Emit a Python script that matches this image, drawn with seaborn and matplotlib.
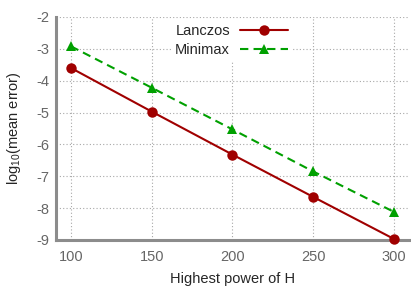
import numpy as np
import pandas as pd
import matplotlib
matplotlib.use("Agg")
import matplotlib.pyplot as plt
import seaborn as sns

# values
powers = [100, 150, 200, 250, 300]
lanczos = [-3.60, -4.97, -6.32, -7.65, -8.97]
minimax = [-2.92, -4.22, -5.53, -6.85, -8.12]

df = pd.DataFrame({
    "power": powers * 2,
    "err": lanczos + minimax,
    "method": ["Lanczos"] * 5 + ["Minimax"] * 5,
})

sns.set_style("white")
plt.rcParams['font.family'] = ['Liberation Sans', 'DejaVu Sans']
plt.rcParams['mathtext.fontset'] = 'custom'
plt.rcParams['mathtext.rm'] = 'Liberation Sans'
plt.rcParams['mathtext.it'] = 'Liberation Sans'

fig = plt.figure(figsize=(4.11, 2.88), dpi=100)
ax = fig.add_axes([0.136, 0.167, 0.859, 0.774])

sns.lineplot(data=df, x="power", y="err", hue="method", style="method",
             palette={"Lanczos": "#a00000", "Minimax": "#00a000"},
             markers={"Lanczos": "o", "Minimax": "^"},
             dashes={"Lanczos": "", "Minimax": (4, 2.5)},
             markersize=7.5, markeredgewidth=0, linewidth=1.5, ax=ax)
for ln in ax.lines:
    ln.set_clip_on(False)
    ln.set_zorder(5)

ax.set_xlim(90.7, 309.3)
ax.set_ylim(-9, -2)
ax.set_xticks(powers)
ax.set_yticks(np.arange(-9, -1))
ax.set_yticklabels([str(v) for v in range(-9, -1)])
ax.grid(True, linestyle=(0, (1, 2)), color="#a8a8a8", linewidth=0.8)
ax.set_axisbelow(True)
for s in ["top", "right"]:
    ax.spines[s].set_visible(False)
for s in ["left", "bottom"]:
    ax.spines[s].set_color("#8c8c8c")
    ax.spines[s].set_linewidth(2.2)
ax.tick_params(colors="#666666", labelsize=10.5, length=3, direction="in", width=1)
ax.tick_params(axis="y", pad=5)
ax.tick_params(axis="x", pad=7)
ax.set_xlabel("Highest power of H", fontsize=10.5, labelpad=6)
ax.set_ylabel("log$_{10}$(mean error)", fontsize=10.5, labelpad=9)

leg = ax.legend(loc="upper right", bbox_to_anchor=(300 / 411, 1 - 12 / 288),
                bbox_transform=fig.transFigure, markerfirst=False,
                frameon=True, fontsize=10.5, handlelength=3.3, handletextpad=0.7,
                labelspacing=0.35, borderpad=0.3, title=None, fancybox=False)
leg.get_frame().set_facecolor("white")
leg.get_frame().set_edgecolor("none")
leg.get_frame().set_alpha(1)
leg.set_zorder(6)

fig.savefig("out.png", dpi=100)
